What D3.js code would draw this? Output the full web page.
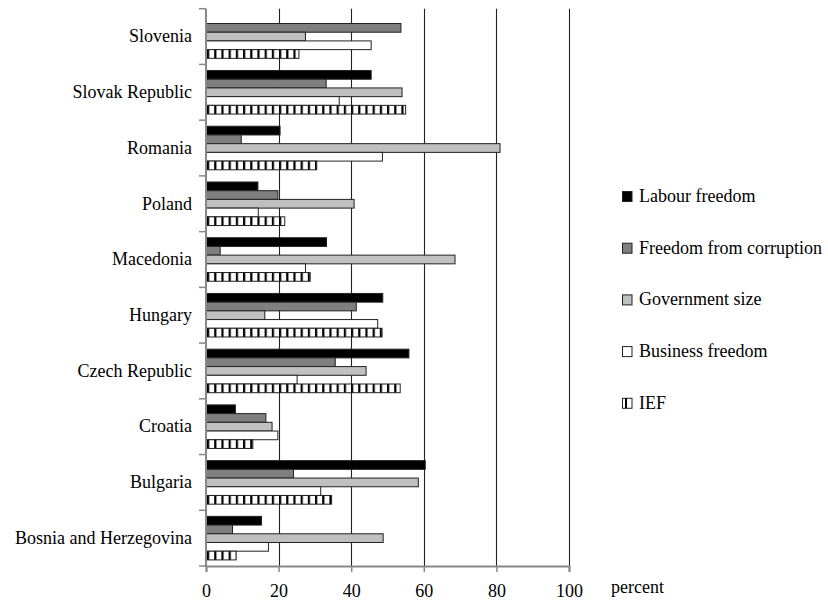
<!DOCTYPE html>
<html>
<head>
<meta charset="utf-8">
<script src="https://cdn.jsdelivr.net/npm/d3@7/dist/d3.min.js"></script>
<style>
  html, body { margin: 0; padding: 0; background: #fff; }
</style>
</head>
<body>
<svg id="chart" width="828" height="604"></svg>
<script>
// Countries, top to bottom
const countries = ["Slovenia", "Slovak Republic", "Romania", "Poland", "Macedonia",
  "Hungary", "Czech Republic", "Croatia", "Bulgaria", "Bosnia and Herzegovina"];

// Series names in drawing order within each country group
const seriesNames = ["Labour freedom", "Freedom from corruption", "Government size",
  "Business freedom", "IEF"];

// Values in percent, one entry per country (same order as countries)
const labourFreedom = [null, 45.5, 20.4, 14.3, 33.2, 48.7, 55.9, 8.1, 60.4, 15.3];
const freedomFromCorruption = [53.7, 33.1, 9.7, 19.8, 3.9, 41.4, 35.6, 16.5, 24.1, 7.3];
const governmentSize = [27.4, 54.0, 81.0, 40.8, 68.6, 16.2, 44.1, 18.2, 58.5, 48.8];
const businessFreedom = [45.5, 36.7, 48.6, 14.4, 27.4, 47.3, 25.1, 19.8, 31.6, 17.2];
const ief = [25.6, 55.0, 30.5, 21.7, 28.7, 48.5, 53.5, 12.9, 34.6, 8.3];

const xTicks = [0, 20, 40, 60, 80, 100];
const xUnitLabel = "percent";

const seriesValues = [labourFreedom, freedomFromCorruption, governmentSize, businessFreedom, ief];
const fills = ["#000000", "#7f7f7f", "#c0c0c0", "#ffffff", "url(#vstripes)"];

const FONT = "'Liberation Serif'";
const FONT_SIZE = "18px";
const svg = d3.select("#chart");
const plot = { left: 206, right: 569, top: 8.7, bottom: 566 };

function serif(sel) {
  return sel.style("font-family", FONT).style("font-size", FONT_SIZE).attr("fill", "#000");
}

// Vertical stripe pattern for the IEF series
const defs = svg.append("defs");
const pat = defs.append("pattern")
  .attr("id", "vstripes")
  .attr("patternUnits", "userSpaceOnUse")
  .attr("x", plot.left + 1)
  .attr("y", 0)
  .attr("width", 7.2)
  .attr("height", 10);
pat.append("rect").attr("width", 7.2).attr("height", 10).attr("fill", "#fff");
pat.append("rect").attr("x", 0).attr("width", 2.2).attr("height", 10).attr("fill", "#000");

const x = d3.scaleLinear().domain([0, 100]).range([plot.left, plot.right]);
const y = d3.scaleBand().domain(countries).range([plot.top, plot.bottom]).padding(0);
const ySeries = d3.scaleBand().domain(seriesNames).range([0, y.bandwidth()])
  .paddingInner(0).paddingOuter(0.7);

// Vertical gridlines
svg.append("g")
  .selectAll("line")
  .data(xTicks.filter(d => d > 0))
  .join("line")
  .attr("x1", d => Math.round(x(d)) + 0.5)
  .attr("x2", d => Math.round(x(d)) + 0.5)
  .attr("y1", plot.top)
  .attr("y2", plot.bottom)
  .attr("stroke", "#222")
  .attr("stroke-width", 1.1);

// Bars
const rows = [];
countries.forEach((c, i) => {
  seriesNames.forEach((s, j) => {
    const v = seriesValues[j][i];
    if (v !== null) rows.push({ country: c, series: s, value: v, idx: j });
  });
});

svg.append("g")
  .selectAll("rect")
  .data(rows)
  .join("rect")
  .attr("x", x(0))
  .attr("y", d => y(d.country) + ySeries(d.series))
  .attr("width", d => x(d.value) - x(0))
  .attr("height", ySeries.bandwidth())
  .attr("fill", d => fills[d.idx])
  .attr("stroke", "#222")
  .attr("stroke-width", 1);

// Bottom axis
const xAxis = svg.append("g")
  .attr("transform", `translate(0,${plot.bottom})`)
  .call(d3.axisBottom(x).tickValues(xTicks).tickSize(6).tickPadding(12).tickFormat(d3.format("d")));
xAxis.select(".domain").attr("stroke", "#888").attr("stroke-width", 2);
xAxis.selectAll(".tick line").attr("stroke", "#888").attr("stroke-width", 1.5);
serif(xAxis.selectAll(".tick text"));

serif(svg.append("text")
  .attr("x", 611)
  .attr("y", 593)
  .text(xUnitLabel));

// Left axis with category labels
const yAxis = svg.append("g")
  .attr("transform", `translate(${plot.left},0)`)
  .call(d3.axisLeft(y).tickSize(0).tickPadding(14));
yAxis.select(".domain").remove();
serif(yAxis.selectAll(".tick text"));

const bounds = countries.map(c => y(c)).concat([plot.bottom]);
svg.append("g")
  .selectAll("line")
  .data(bounds)
  .join("line")
  .attr("x1", plot.left - 7)
  .attr("x2", plot.left)
  .attr("y1", d => d)
  .attr("y2", d => d)
  .attr("stroke", "#888")
  .attr("stroke-width", 1.5);
svg.append("line")
  .attr("x1", plot.left).attr("x2", plot.left)
  .attr("y1", plot.top).attr("y2", plot.bottom + 1)
  .attr("stroke", "#888").attr("stroke-width", 2);

// Legend
const legend = svg.append("g").attr("transform", "translate(622,191)");
const item = legend.selectAll("g")
  .data(seriesNames)
  .join("g")
  .attr("transform", (d, i) => `translate(0,${i * 51.7})`);
item.append("rect")
  .attr("x", 0.5).attr("y", 0.5)
  .attr("width", 9.5).attr("height", 10)
  .attr("fill", (d, i) => i === 4 ? "#fff" : fills[i])
  .attr("stroke", "#222")
  .attr("stroke-width", 1);
item.filter((d, i) => i === 4).append("line")
  .attr("x1", 4).attr("x2", 4).attr("y1", 0.5).attr("y2", 10.5)
  .attr("stroke", "#000").attr("stroke-width", 2);
serif(item.append("text")
  .attr("x", 17)
  .attr("y", 11)
  .text(d => d));
</script>
</body>
</html>
